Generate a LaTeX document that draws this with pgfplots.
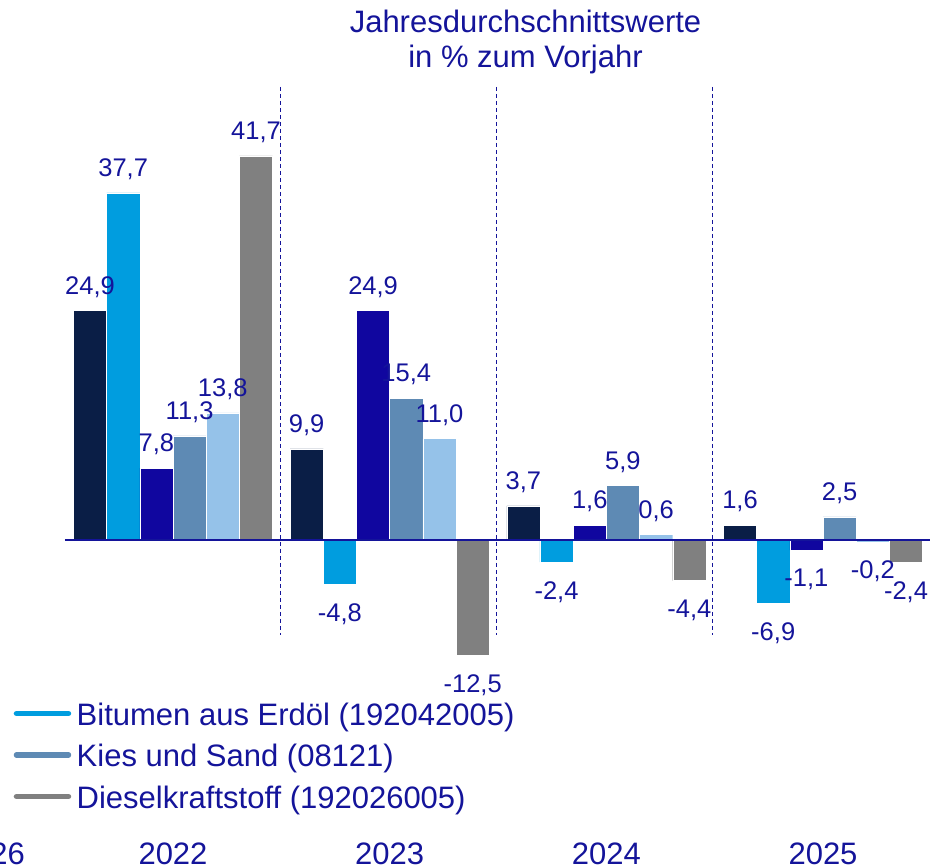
\documentclass[border=0pt]{standalone}
\usepackage{fontspec}
\setmainfont{Liberation Sans}
\usepackage{pgfplots}
\pgfplotsset{compat=1.18}

\definecolor{cNavy}{HTML}{0A1E46}
\definecolor{cBitumen}{HTML}{009DDF}
\definecolor{cIndigo}{HTML}{10069F}
\definecolor{cKies}{HTML}{5E8AB4}
\definecolor{cPale}{HTML}{95C2E9}
\definecolor{cDiesel}{HTML}{808080}
\definecolor{cText}{HTML}{14149A}

\newcommand\bigfont{\fontsize{31}{36}\selectfont}
\newcommand\lblfont{\fontsize{25.5}{30}\selectfont}

% #1 = shift in axis units, #2 = same shift in pt (for the value labels)
\pgfplotsset{
  bars/.style 2 args={ybar, bar width=0.1532, bar shift=#1, fill, draw=white, line width=0.4pt, forget plot,
    every node near coord/.append style={xshift=#2}},
}
\tikzset{yearsep/.style={cText, line width=1pt, dash pattern=on 4pt off 3pt}}

\begin{document}
\begin{tikzpicture}
\begin{axis}[
    name=ax,
    width=865pt, height=868pt, scale only axis,
    xmin=-0.4985, xmax=3.4938,
    ymin=-35.61, ymax=58.63,
    axis line style={draw=none},
    tick style={draw=none},
    ytick=\empty,
    xtick={0,1,2,3},
    xticklabels={2022,2023,2024,2025},
    xticklabel style={anchor=base, yshift=3pt, font=\bigfont, text=cText},
    clip=false,
    nodes near coords,
    /pgf/number format/fixed,
    /pgf/number format/fixed zerofill,
    /pgf/number format/precision=1,
    /pgf/number format/use comma,
    /pgf/number format/assume math mode=true,
    visualization depends on={y \as \rawy},
    nodes near coords style={font=\lblfont, text=cText, inner sep=0pt},
    every node near coord/.append style={yshift={\rawy>0 ? 13 : -19}},
    legend cell align=left,
    legend style={at={(axis description cs:-0.0595,0.1915)}, anchor=north west,
      draw=none, fill=none, font=\bigfont, text=cText, inner sep=0pt,
      row sep=10.5pt, column sep=5.5pt,
      nodes={inner sep=0pt, text height=23.25pt, text depth=7.75pt}},
]
% navy series
\addplot[bars={-0.383}{-83pt}, fill=cNavy] coordinates {(0,24.9) (1,9.9) (2,3.7) (3,1.6)};
% Bitumen aus Erdoel
\addplot[bars={-0.2298}{-49.8pt}, fill=cBitumen] coordinates {(0,37.7) (1,-4.8) (2,-2.4) (3,-6.9)};
% indigo series
\addplot[bars={-0.0766}{-16.6pt}, fill=cIndigo] coordinates {(0,7.8) (1,24.9) (2,1.6) (3,-1.1)};
% Kies und Sand
\addplot[bars={0.0766}{16.6pt}, fill=cKies] coordinates {(0,11.3) (1,15.4) (2,5.9) (3,2.5)};
% pale blue series
\addplot[bars={0.2298}{49.8pt}, fill=cPale] coordinates {(0,13.8) (1,11.0) (2,0.6) (3,-0.2)};
% Dieselkraftstoff
\addplot[bars={0.383}{83pt}, fill=cDiesel] coordinates {(0,41.7) (1,-12.5) (2,-4.4) (3,-2.4)};

\addlegendimage{legend image code/.code={\draw[cBitumen, line width=5.5pt, line cap=round] (0pt,4pt) -- (52pt,4pt);}}
\addlegendentry{Bitumen aus Erdöl (192042005)}
\addlegendimage{legend image code/.code={\draw[cKies, line width=5.5pt, line cap=round] (0pt,4pt) -- (52pt,4pt);}}
\addlegendentry{Kies und Sand (08121)}
\addlegendimage{legend image code/.code={\draw[cDiesel, line width=5.5pt, line cap=round] (0pt,4pt) -- (52pt,4pt);}}
\addlegendentry{Dieselkraftstoff (192026005)}

% zero line
\draw[cText, line width=1.8pt] (axis cs:-0.4985,0) -- (axis cs:3.4938,0);
% year separators
\draw[yearsep] (axis cs:0.494,49.19) -- (axis cs:0.494,-10.31);
\draw[yearsep] (axis cs:1.495,49.19) -- (axis cs:1.495,-10.31);
\draw[yearsep] (axis cs:2.492,49.19) -- (axis cs:2.492,-10.31);
% title
\node[font=\bigfont, text=cText, anchor=base] at (axis description cs:0.5324,0.962) {Jahresdurchschnittswerte};
\node[font=\bigfont, text=cText, anchor=base] at (axis description cs:0.5324,0.9217) {in \% zum Vorjahr};
% cut-off label at the left edge
\node[font=\bigfont, text=cText, anchor=base east, inner sep=0pt, yshift=3pt] at (axis cs:-0.683,-35.61) {26};
\end{axis}
\pgfresetboundingbox
\path[use as bounding box] ([xshift=-65pt]ax.south west) rectangle (ax.north east);
\end{tikzpicture}
\end{document}
